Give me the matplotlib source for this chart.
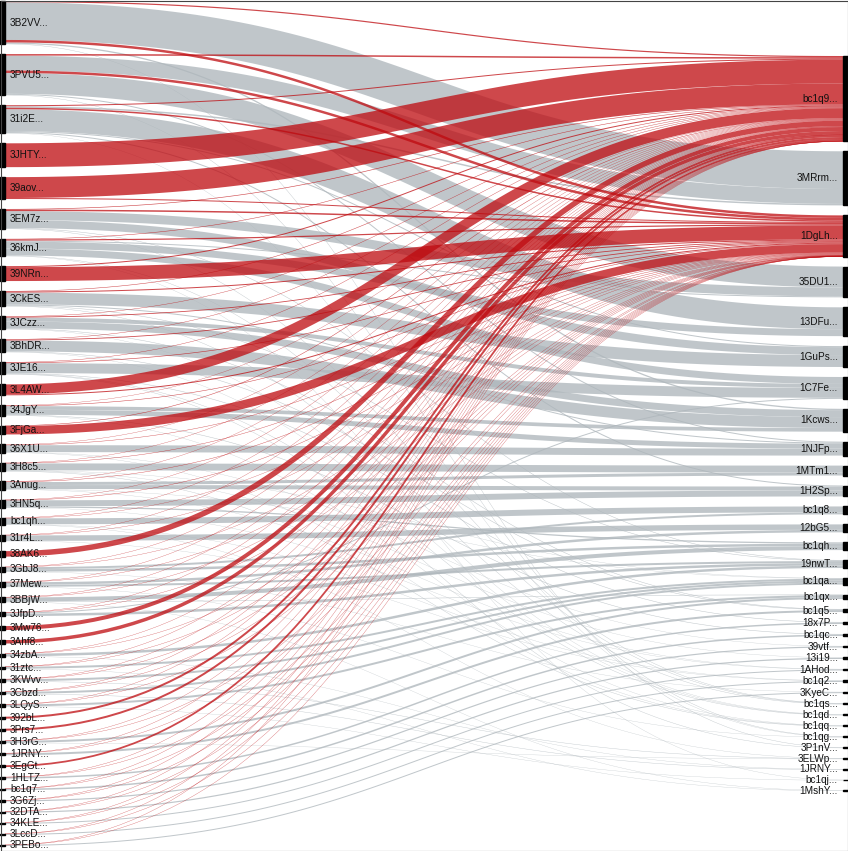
import matplotlib
matplotlib.use("Agg")
import matplotlib.pyplot as plt
from matplotlib.patches import Rectangle
import numpy as np

# inputs (left column), top to bottom
left_names = ["3B2VV", "3PVU5", "31i2E", "3JHTY", "39aov", "3EM7z", "36kmJ", "39NRn",
              "3CkES", "3JCzz", "3BhDR", "3JE16", "3L4AW", "34JgY", "3FjGa", "36X1U",
              "3H8c5", "3Anug", "3HN5q", "bc1qh", "31r4L", "38AK6", "3GbJ8", "37Mew",
              "3BBjW", "3JfpD", "3Mw76", "3Ahf8", "34zbA", "31ztc", "3KWvv", "3Cbzd",
              "3LQyS", "392bL", "3Prs7", "3H3rG", "1JRNY", "3EgGt", "1HLTZ", "bc1q7",
              "3G6Zj", "32DTA", "34KLE", "3LccD", "3PEBo"]

# outputs (right column), top to bottom
right_names = ["bc1q9", "3MRrm", "1DgLh", "35DU1", "13DFu", "1GuPs", "1C7Fe", "1Kcws",
               "1NJFp", "1MTm1", "1H2Sp", "bc1q8", "12bG5", "bc1qh", "19nwT", "bc1qa",
               "bc1qx", "bc1q5", "18x7P", "bc1qc", "39vtf", "13i19", "1AHod", "bc1q2",
               "3KyeC", "bc1qs", "bc1qd", "bc1qq", "bc1qg", "3P1nV", "3ELWp", "1JRNY",
               "bc1qj", "1MshY"]

highlight = ["bc1q9", "1DgLh"]

# amount each input sends to the two highlighted outputs
to_bc1q9 = [1.2, 1.5, 1.0, 24, 21, 0.6, 0.5, 1.0, 0.5, 0.4, 0.4, 0.4, 10, 0.3, 0.5,
            0.3, 0.3, 0.3, 0.3, 0.3, 0.3, 5.5, 0.3, 0.2, 0.2, 0.2, 4, 3.5, 0.15, 0.1,
            0.1, 0.1, 0.1, 2, 2, 0.1, 0.08, 1.8, 0.06, 0.06, 0.05, 0.05, 0.04, 0.04, 0.04]
to_1DgLh = [2.5, 2.5, 1.5, 0, 1.0, 1.5, 1.2, 14, 1.0, 0.8, 0.8, 0.6, 1.0, 0.5, 8.5,
            0.4, 0.4, 0.4, 0.4, 0.3, 0.3, 0, 0.3, 0.2, 0.2, 0.2, 0, 0, 0.1, 0.1,
            0.1, 0.1, 0.1, 0, 0, 0.1, 0.05, 0, 0.05, 0.05, 0.04, 0.04, 0.03, 0.03, 0.03]

# other flows
grey_src = ["3B2VV", "3B2VV", "3B2VV",
            "3PVU5", "3PVU5", "3PVU5", "3PVU5",
            "31i2E", "31i2E", "31i2E", "31i2E", "31i2E",
            "3EM7z", "3EM7z", "3EM7z", "3EM7z",
            "36kmJ", "36kmJ", "36kmJ", "36kmJ", "36kmJ",
            "3CkES", "3CkES", "3CkES", "3CkES",
            "3JCzz", "3JCzz", "3JCzz", "3JCzz",
            "3BhDR", "3BhDR", "3BhDR",
            "3JE16", "3JE16", "3JE16", "3JE16",
            "34JgY", "34JgY", "34JgY", "34JgY",
            "36X1U", "36X1U", "36X1U",
            "3H8c5", "3H8c5", "3H8c5", "3H8c5",
            "3Anug", "3Anug", "3Anug", "3Anug",
            "3HN5q", "3HN5q", "3HN5q",
            "bc1qh", "bc1qh", "bc1qh",
            "31r4L", "31r4L",
            "3GbJ8", "3GbJ8", "3GbJ8",
            "37Mew", "37Mew", "37Mew",
            "3BBjW", "3BBjW", "3BBjW",
            "3JfpD", "3JfpD",
            "34zbA", "34zbA",
            "31ztc", "31ztc", "3KWvv", "3KWvv", "3Cbzd", "3Cbzd",
            "3LQyS", "3LQyS", "3H3rG", "3H3rG", "1JRNY",
            "1HLTZ", "bc1q7", "3G6Zj", "32DTA", "34KLE", "3LccD", "3PEBo"]
grey_dst = ["3MRrm", "1Kcws", "3P1nV",
            "3MRrm", "35DU1", "1NJFp", "bc1qg",
            "3MRrm", "13DFu", "1GuPs", "1H2Sp", "bc1qg",
            "35DU1", "1GuPs", "19nwT", "bc1qs",
            "35DU1", "13DFu", "1C7Fe", "bc1qs", "bc1qj",
            "1GuPs", "1NJFp", "19nwT", "bc1qs",
            "1C7Fe", "1Kcws", "bc1q5", "bc1qd",
            "1Kcws", "bc1q5", "bc1qd",
            "1C7Fe", "18x7P", "bc1qd", "3P1nV",
            "1Kcws", "1NJFp", "bc1qc", "bc1qq",
            "1NJFp", "39vtf", "bc1qq",
            "1MTm1", "bc1qa", "13i19", "bc1qq",
            "1MTm1", "1H2Sp", "bc1qa", "1AHod",
            "1H2Sp", "bc1qh", "1AHod",
            "bc1q8", "bc1q2", "3ELWp",
            "12bG5", "bc1q2",
            "bc1q8", "bc1qh", "3KyeC",
            "12bG5", "19nwT", "bc1qg",
            "bc1qh", "bc1qx", "1MshY",
            "1C7Fe", "19nwT",
            "19nwT", "1JRNY",
            "bc1qa", "1MshY", "bc1qa", "3ELWp", "bc1qa", "1JRNY",
            "bc1qx", "bc1qj", "bc1qx", "3ELWp", "bc1q5",
            "18x7P", "bc1qc", "39vtf", "13i19", "1AHod", "bc1q2", "3KyeC"]
grey_val = [38, 1.3, 0.4,
            15, 21, 1, 0.4,
            1.5, 22, 1, 1, 0.3,
            9, 8, 0.5, 0.4,
            1, 7, 7, 0.4, 0.3,
            12, 1, 0.5, 0.4,
            4, 7, 0.5, 0.3,
            11, 0.5, 0.3,
            10, 0.5, 0.4, 0.4,
            3.7, 5, 0.5, 0.3,
            7, 0.3, 0.3,
            7, 0.3, 0.3, 0.4,
            3, 4, 0.3, 0.3,
            6, 1.3, 0.2,
            6, 0.2, 0.3,
            5.5, 0.3,
            2, 2.5, 0.2,
            2.5, 2, 0.3,
            4, 0.5, 0.3,
            1, 2.5,
            2.5, 0.3,
            2, 0.3, 2, 0.4, 2, 0.4,
            2, 0.3, 2, 0.3, 2,
            1.5, 1.5, 1.2, 1.2, 1, 1, 1]

# build link table
links = []
for i, name in enumerate(left_names):
    if to_bc1q9[i] > 0:
        links.append((name, "bc1q9", to_bc1q9[i]))
    if to_1DgLh[i] > 0:
        links.append((name, "1DgLh", to_1DgLh[i]))
for s, d, v in zip(grey_src, grey_dst, grey_val):
    links.append((s, d, v))

W, H = 848, 851
node_w = 5
gap = 10
top, bottom = 1, 846

left_tot = {n: 0.0 for n in left_names}
right_tot = {n: 0.0 for n in right_names}
for s, d, v in links:
    left_tot[s] += v
    right_tot[d] += v

ky = (bottom - top - gap * (len(left_names) - 1)) / sum(left_tot.values())

left_y = {}
y = top
for n in left_names:
    left_y[n] = y
    y += left_tot[n] * ky + gap

right_h = sum(right_tot.values()) * ky + gap * (len(right_names) - 1)
right_y = {}
y = (top + bottom - right_h) / 2
for n in right_names:
    right_y[n] = y
    y += right_tot[n] * ky + gap

# stack links at each end, d3-sankey style
src_off = {}
for n in left_names:
    out = [k for k, l in enumerate(links) if l[0] == n]
    out.sort(key=lambda k: right_y[links[k][1]])
    y = left_y[n]
    for k in out:
        src_off[k] = y
        y += links[k][2] * ky
dst_off = {}
for n in right_names:
    inc = [k for k, l in enumerate(links) if l[1] == n]
    inc.sort(key=lambda k: left_y[links[k][0]])
    y = right_y[n]
    for k in inc:
        dst_off[k] = y
        y += links[k][2] * ky

fig = plt.figure(figsize=(W / 100, H / 100), dpi=100)
ax = fig.add_axes([0, 0, 1, 1])
ax.set_xlim(0, W)
ax.set_ylim(H, 0)
ax.axis("off")

x0, x1 = node_w, W - node_w
xm = (x0 + x1) / 2
t = np.linspace(0, 1, 80)
bx = (1 - t) ** 3 * x0 + 3 * (1 - t) ** 2 * t * xm + 3 * (1 - t) * t ** 2 * xm + t ** 3 * x1
a0 = (1 - t) ** 3 + 3 * (1 - t) ** 2 * t
a1 = 3 * (1 - t) * t ** 2 + t ** 3

order = sorted(range(len(links)), key=lambda k: links[k][1] in highlight)
for k in order:
    s, d, v = links[k]
    w = v * ky
    ys = src_off[k] + w / 2
    yd = dst_off[k] + w / 2
    by = ys * a0 + yd * a1
    if d in highlight:
        col, alpha = "#be0a0f", 0.75
    else:
        col, alpha = "#afb7bc", 0.78
    ax.plot(bx, by, color=col, alpha=alpha, lw=max(w, 0.3) * 0.72,
            solid_capstyle="butt", zorder=2)

for n in left_names:
    h = left_tot[n] * ky
    ax.add_patch(Rectangle((0, left_y[n]), node_w, h, color="black", zorder=3))
    ax.text(10, left_y[n] + h / 2, n + "...", ha="left", va="center",
            fontsize=7.2, family="Liberation Sans", color="#111111", zorder=4)
for n in right_names:
    h = right_tot[n] * ky
    ax.add_patch(Rectangle((W - node_w, right_y[n]), node_w, h, color="black", zorder=3))
    ax.text(W - 10, right_y[n] + h / 2, n + "...", ha="right", va="center",
            fontsize=7.2, family="Liberation Sans", color="#111111", zorder=4)

ax.add_patch(Rectangle((0.5, 0.5), W - 1, H - 1, fill=False, edgecolor="#444444",
                       lw=0.8, zorder=5))

fig.savefig("out.png", dpi=100)
